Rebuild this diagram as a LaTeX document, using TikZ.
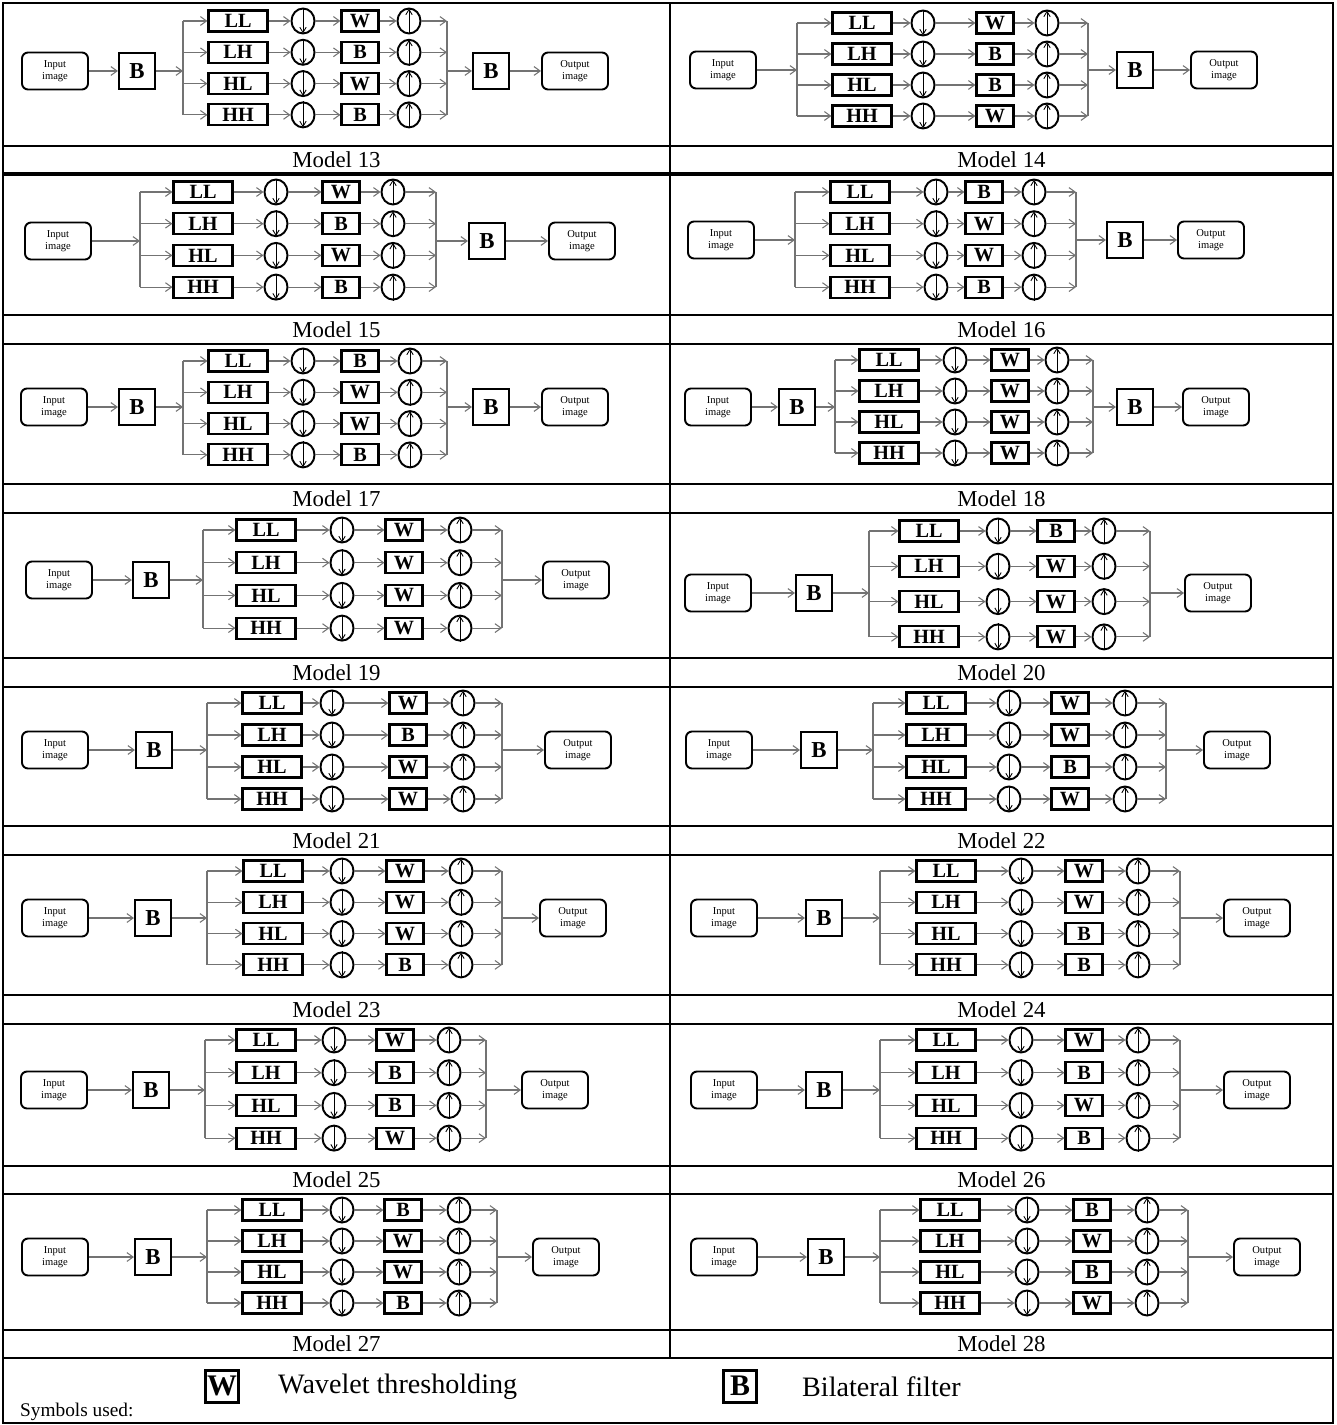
\documentclass[tikz,border=0pt]{standalone}
\usepackage{fontspec}
\setmainfont{Liberation Serif}
\usepackage{tikz}
\usetikzlibrary{arrows.meta,shapes.geometric}

\begin{document}
\begin{tikzpicture}[x=0.02cm, y=-0.02cm,
  rule/.style={line width=1.5pt},
  io/.style={draw, line width=1.1pt, rounded corners=0.12cm, minimum width=1.32cm, minimum height=0.74cm, align=center, inner sep=1pt, font=\fontsize{6}{6.5}\selectfont},
  sub/.style={draw, line width=1.2pt, minimum width=1.18cm, minimum height=0.42cm, inner sep=0pt, font=\fontsize{11.5}{12}\selectfont\bfseries},
  filt/.style={sub, minimum width=0.74cm},
  bb/.style={draw, line width=1.2pt, minimum width=0.72cm, minimum height=0.72cm, inner sep=0pt, font=\fontsize{13}{14}\selectfont\bfseries},
  samp/.style={draw, ellipse, line width=1.1pt, minimum width=0.46cm, minimum height=0.5cm, inner sep=0pt},
  arr/.style={-{Straight Barb[length=3.5pt,width=5pt]}, line width=0.6pt, black!55},
  link/.style={line width=0.6pt, black!55},
  tick/.style={-{Straight Barb[length=3pt,width=3.6pt]}, line width=0.5pt, shorten >=0.6pt},
  modelcap/.style={font=\fontsize{13}{14}\selectfont},
  key/.style={draw, line width=1.7pt, minimum width=0.66cm, minimum height=0.64cm, inner sep=0pt, font=\fontsize{17}{18}\selectfont\bfseries},
  keytext/.style={anchor=west, font=\fontsize{16}{17}\selectfont}]
  \useasboundingbox (0,0) rectangle (1336,1425);

  % table frame
  \draw[rule] (3,3) rectangle (1333,1423);
  \draw[rule] (670,3) -- (670,1358);
  \foreach \yl in {146,315,344,484,513,658,687,826,855,995,1024,1166,1194,1330,1358}
    \draw[rule] (3,\yl) -- (1333,\yl);
  \draw[line width=2.2pt] (3,174) -- (1333,174);

  % one panel per model: input, pre-B, split, subband, down, filter, up, join, post-B, output (x); mid, first row, row step, caption (y); filters
  \foreach \m/\xi/\xp/\xs/\xb/\xd/\xf/\xu/\xj/\xq/\xo/\ym/\yt/\dy/\yc/\fa/\fb/\fc/\fd in {
    13/55/137/183/238/303/360/409/447/491/575/71/21/31.3/160/W/B/W/B,
    14/723/0/797/862/923/995/1047/1088/1135/1224/70/23/31/160/W/B/B/W,
    15/58/0/140/203/276/341/393/436/487/582/241/192/31.7/329.5/W/B/W/B,
    16/721/0/795/860/936/984/1034/1076/1125/1211/240/192/31.7/329.5/B/W/W/B,
    17/54/137/183/238/303/360/410/447/491/575/407/361/31.3/498.5/B/W/W/B,
    18/718/797/835/889/955/1010/1057/1093/1135/1216/407/360/31/498.5/W/W/W/W,
    19/59/151/203/266/342/404/460/502/0/576/580/530/32.7/672.5/W/W/W/W,
    20/718/814/869/929/998/1056/1104/1150/0/1218/593/531/35.3/672.5/B/W/W/W,
    21/55/154/207/272/332/408/463/502/0/578/750/703/32/840.5/W/B/W/W,
    22/719/819/873/936/1009/1070/1125/1166/0/1237/750/703/32/840.5/W/W/B/W,
    23/55/153/207/273/342/405/461/502/0/573/918/871/31.3/1009.5/W/W/W/B,
    24/724/824/880/946/1021/1084/1138/1180/0/1257/918/871/31.3/1009.5/W/W/B/B,
    25/54/151/205/266/334/395/449/486/0/555/1090/1040/32.7/1180/W/B/B/W,
    26/724/824/880/946/1021/1084/1138/1180/0/1257/1090/1040/32.7/1180/W/B/W/B,
    27/55/153/207/272/342/403/459/497/0/566/1257/1210/31/1344/B/W/W/B,
    28/724/826/880/950/1027/1092/1147/1188/0/1267/1257/1210/31/1344/B/W/B/W} {
    \node[io] (in\m) at (\xi,\ym) {Input\\image};
    \node[io] (out\m) at (\xo,\ym) {Output\\image};
    \foreach \sb/\f [count=\r from 0] in {LL/\fa,LH/\fb,HL/\fc,HH/\fd} {
      \pgfmathsetmacro\yr{\yt+\r*\dy}
      \coordinate (sp\m\r) at (\xs,\yr);
      \coordinate (jn\m\r) at (\xj,\yr);
      \node[sub] (sb\m\r) at (\xb,\yr) {\sb};
      \node[samp] (dn\m\r) at (\xd,\yr) {};
      \node[filt] (fl\m\r) at (\xf,\yr) {\f};
      \node[samp] (up\m\r) at (\xu,\yr) {};
      \draw[tick] (dn\m\r.north) -- (dn\m\r.south);
      \draw[tick] (up\m\r.south) -- (up\m\r.north);
      \draw[arr] (sp\m\r) -- (sb\m\r);
      \draw[arr] (sb\m\r) -- (dn\m\r);
      \draw[arr] (dn\m\r) -- (fl\m\r);
      \draw[arr] (fl\m\r) -- (up\m\r);
      \draw[arr] (up\m\r) -- (jn\m\r);
    }
    \draw[link] (sp\m0) -- (sp\m3);
    \draw[link] (jn\m0) -- (jn\m3);
    \coordinate (split\m) at (\xs,\ym);
    \coordinate (join\m) at (\xj,\ym);
    \ifnum\xp>0
      \node[bb] (pre\m) at (\xp,\ym) {B};
      \draw[arr] (in\m) -- (pre\m);
      \draw[arr] (pre\m) -- (split\m);
    \else
      \draw[arr] (in\m) -- (split\m);
    \fi
    \ifnum\xq>0
      \node[bb] (post\m) at (\xq,\ym) {B};
      \draw[arr] (join\m) -- (post\m);
      \draw[arr] (post\m) -- (out\m);
    \else
      \draw[arr] (join\m) -- (out\m);
    \fi
    \ifodd\m \def\xc{336.5}\else\def\xc{1001.5}\fi
    \node[modelcap] (cap\m) at (\xc,\yc) {Model \m};
  }

  % legend
  \node[key] (keyW) at (222,1386) {W};
  \node[keytext] (keyWtext) at (272,1387) {Wavelet thresholding};
  \node[key] (keyB) at (740,1386) {B};
  \node[keytext] (keyBtext) at (796,1387) {Bilateral filter};
  \node[anchor=west, font=\fontsize{11}{12}\selectfont] (symbols) at (14,1412) {Symbols used:};
\end{tikzpicture}
\end{document}
